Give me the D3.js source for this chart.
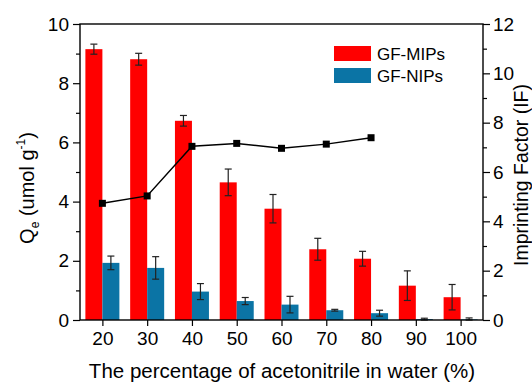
<!DOCTYPE html>
<html>
<head>
<meta charset="utf-8">
<script src="https://cdn.jsdelivr.net/npm/d3@7"></script>
<style>
  body { margin: 0; background: #fff; }
  text { font-family: "Liberation Sans", Arial, sans-serif; fill: #000; }
</style>
</head>
<body>
<script>
// data
var percent = [20, 30, 40, 50, 60, 70, 80, 90, 100];
var mipQ   = [9.15, 8.81, 6.73, 4.65, 3.76, 2.39, 2.07, 1.16, 0.77];
var mipErr = [0.17, 0.20, 0.18, 0.45, 0.48, 0.37, 0.25, 0.50, 0.43];
var nipQ   = [1.93, 1.76, 0.96, 0.64, 0.52, 0.33, 0.23, 0.03, 0.02];
var nipErr = [0.23, 0.38, 0.27, 0.12, 0.28, 0.03, 0.10, 0.03, 0.05];
var ifPct  = [20, 30, 40, 50, 60, 70, 80];
var ifVal  = [4.73, 5.03, 7.04, 7.16, 6.96, 7.13, 7.39];
var leftTicks = [0, 2, 4, 6, 8, 10];
var rightTicks = [0, 2, 4, 6, 8, 10, 12];

var W = 532, H = 384;
var margin = {top: 24, right: 49, bottom: 64, left: 80};
var width = W - margin.left - margin.right,
    height = H - margin.top - margin.bottom;

var svg = d3.select("body").append("svg")
    .attr("width", W).attr("height", H);
var g = svg.append("g")
    .attr("transform", "translate(" + margin.left + "," + margin.top + ")");

var x = d3.scaleLinear().domain([15, 105]).range([0, width]);
var y = d3.scaleLinear().domain([0, 10]).range([height, 0]);
var y2 = d3.scaleLinear().domain([0, 12]).range([height, 0]);
var barW = 17;

var red = "#ff0000", blue = "#0b74a5";

// bars
g.selectAll(".mip").data(percent).enter().append("rect")
  .attr("x", d => x(d) - barW)
  .attr("y", (d, i) => y(mipQ[i]))
  .attr("width", barW)
  .attr("height", (d, i) => height - y(mipQ[i]))
  .attr("fill", red);

g.selectAll(".nip").data(percent).enter().append("rect")
  .attr("x", d => x(d))
  .attr("y", (d, i) => y(nipQ[i]))
  .attr("width", barW)
  .attr("height", (d, i) => height - y(nipQ[i]))
  .attr("fill", blue);

// error bars
function errBars(vals, errs, off) {
  percent.forEach(function(p, i) {
    var cx = x(p) + off;
    var e = g.append("g").attr("stroke", "#222").attr("stroke-width", 1.2);
    e.append("line").attr("x1", cx).attr("x2", cx)
      .attr("y1", y(vals[i] + errs[i])).attr("y2", y(Math.max(0, vals[i] - errs[i])));
    e.append("line").attr("x1", cx - 3.5).attr("x2", cx + 3.5)
      .attr("y1", y(vals[i] + errs[i])).attr("y2", y(vals[i] + errs[i]));
    e.append("line").attr("x1", cx - 3.5).attr("x2", cx + 3.5)
      .attr("y1", y(Math.max(0, vals[i] - errs[i]))).attr("y2", y(Math.max(0, vals[i] - errs[i])));
  });
}
errBars(mipQ, mipErr, -barW / 2);
errBars(nipQ, nipErr, barW / 2);

// imprinting factor line
var line = d3.line()
  .x((d, i) => x(ifPct[i]))
  .y(d => y2(d));
g.append("path").datum(ifVal)
  .attr("d", line)
  .attr("fill", "none")
  .attr("stroke", "#000")
  .attr("stroke-width", 1.5);
g.selectAll(".pt").data(ifVal).enter().append("rect")
  .attr("x", (d, i) => x(ifPct[i]) - 3.5)
  .attr("y", d => y2(d) - 3.5)
  .attr("width", 7).attr("height", 7)
  .attr("fill", "#000");

// axes
function styleAxis(sel) {
  sel.select(".domain").remove();
  sel.selectAll("line").attr("stroke", "#000").attr("stroke-width", 1.2);
  sel.selectAll("text").attr("font-size", 19).attr("fill", "#000")
    .style("font-family", "'Liberation Sans', Arial, sans-serif");
}

var leftAx = g.append("g")
  .call(d3.axisLeft(y).tickValues(leftTicks).tickSize(7).tickPadding(4));
styleAxis(leftAx);
var leftMinor = g.append("g")
  .call(d3.axisLeft(y).tickValues([1, 3, 5, 7, 9]).tickSize(4).tickFormat(""));
styleAxis(leftMinor);

var rightAx = g.append("g").attr("transform", "translate(" + width + ",0)")
  .call(d3.axisRight(y2).tickValues(rightTicks).tickSize(7).tickPadding(3));
styleAxis(rightAx);
var rightMinor = g.append("g").attr("transform", "translate(" + width + ",0)")
  .call(d3.axisRight(y2).tickValues([1, 3, 5, 7, 9, 11]).tickSize(4).tickFormat(""));
styleAxis(rightMinor);

var bottomAx = g.append("g").attr("transform", "translate(0," + height + ")")
  .call(d3.axisBottom(x).tickValues(percent).tickSize(6).tickPadding(6).tickFormat(d3.format("d")));
styleAxis(bottomAx);

// frame
g.append("rect")
  .attr("width", width).attr("height", height)
  .attr("fill", "none").attr("stroke", "#000").attr("stroke-width", 1.4);

// axis titles
svg.append("text")
  .attr("x", 282)
  .attr("y", 378)
  .attr("text-anchor", "middle")
  .attr("font-size", 20.5)
  .text("The percentage of acetonitrile in water (%)");

var yl = svg.append("text")
  .attr("transform", "translate(34,188) rotate(-90)")
  .attr("text-anchor", "middle")
  .attr("font-size", 20);
yl.append("tspan").text("Q");
yl.append("tspan").attr("font-size", 12).attr("dy", 5).text("e");
yl.append("tspan").attr("dy", -5).text(" (umol g");
yl.append("tspan").attr("font-size", 12).attr("dy", -9).text("-1");
yl.append("tspan").attr("dy", 9).text(")");

svg.append("text")
  .attr("transform", "translate(528,175) rotate(-90)")
  .attr("text-anchor", "middle")
  .attr("font-size", 19.5)
  .text("Imprinting Factor (IF)");

// legend
var leg = svg.append("g");
[["GF-MIPs", red], ["GF-NIPs", blue]].forEach(function(d, i) {
  leg.append("rect").attr("x", 334).attr("y", 46 + i * 22)
    .attr("width", 37).attr("height", 15).attr("fill", d[1]);
  leg.append("text").attr("x", 377).attr("y", 59.5 + i * 22)
    .attr("font-size", 17).text(d[0]);
});
</script>
</body>
</html>
